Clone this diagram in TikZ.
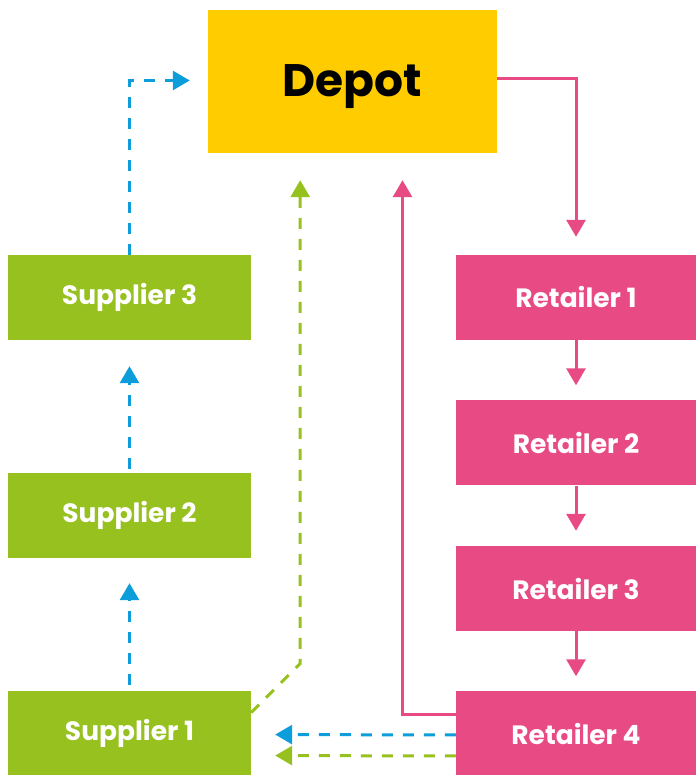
\documentclass[tikz,border=0pt]{standalone}
\usepackage{fontspec}
\setmainfont{Poppins}
\usetikzlibrary{arrows.meta}
\definecolor{depotyellow}{HTML}{FFCC00}
\definecolor{supgreen}{HTML}{96C11F}
\definecolor{retpink}{HTML}{E84A84}
\definecolor{flowblue}{HTML}{0D9DDB}
\begin{document}
\begin{tikzpicture}[x=1pt, y=1pt, >={Triangle[length=17pt, width=19pt]},
  supbox/.style={fill=supgreen, minimum width=243pt, minimum height=85pt, text=white, font=\fontsize{26.5}{30}\selectfont\bfseries},
  retbox/.style={fill=retpink, minimum width=240pt, minimum height=85pt, text=white, font=\fontsize{26.5}{30}\selectfont\bfseries},
  pinkflow/.style={->, draw=retpink, line width=3pt},
  blueflow/.style={->, draw=flowblue, line width=3pt, dash pattern=on 11pt off 10pt},
  greenflow/.style={->, draw=supgreen, line width=3pt, dash pattern=on 11pt off 10pt}]
  \useasboundingbox (0,0) rectangle (696,775);

  \node[fill=depotyellow, minimum width=289pt, minimum height=143pt] (depot) at (352.5,693.5) {};
  \node[font=\fontsize{45.5}{52}\selectfont\bfseries] (depotlabel) at ([yshift=-5pt]depot.center) {Depot};

  \node[supbox] (sup3) at (129.5,477.5) {Supplier 3};
  \node[supbox, below of=sup3, node distance=218pt] (sup2) {Supplier 2};
  \node[supbox, below of=sup2, node distance=218pt] (sup1) {Supplier 1};

  \node[retbox] (ret1) at (576,477.5) {Retailer 1};
  \node[retbox, below of=ret1, node distance=145.5pt] (ret2) {Retailer 2};
  \node[retbox, below of=ret2, node distance=145.5pt] (ret3) {Retailer 3};
  \node[retbox, below of=ret3, node distance=145.5pt] (ret4) {Retailer 4};

  % suppliers up to the depot
  \draw[blueflow, shorten <=6pt, shorten >=25pt] (sup1) -- (sup2);
  \draw[blueflow, shorten <=4pt, shorten >=26pt] (sup2) -- (sup3);
  \draw[blueflow, shorten >=18pt] (sup3.north) |- ([yshift=1pt]depot.west);

  % depot down the retailers
  \draw[pinkflow, shorten >=18pt] ([yshift=3pt]depot.east) -| (ret1.north);
  \draw[pinkflow, shorten >=15pt] (ret1) -- (ret2);
  \draw[pinkflow, shorten >=15pt] (ret2) -- (ret3);
  \draw[pinkflow, shorten >=15pt] (ret3) -- (ret4);
  \draw[pinkflow, shorten >=27pt] ([yshift=19pt]ret4.west) -| ([xshift=50pt]depot.south);

  % back from retailer 4
  \draw[blueflow, shorten >=24pt] ([yshift=-1pt]ret4.west) -- ([yshift=-1pt]sup1.east);
  \draw[greenflow, shorten >=24pt] ([yshift=-22pt]ret4.west) -- ([yshift=-22pt]sup1.east);
  \draw[greenflow, shorten >=27pt] ([yshift=21pt]sup1.east) -- ++(49,49) coordinate (gturn) -- (gturn |- depot.south);
\end{tikzpicture}
\end{document}
